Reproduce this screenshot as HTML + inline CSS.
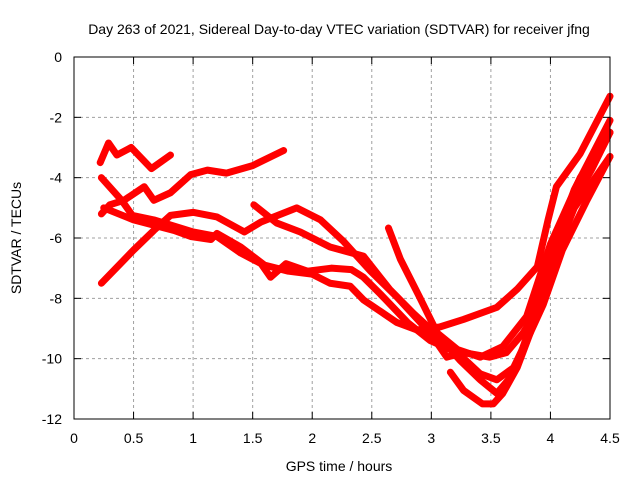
<!DOCTYPE html>
<html><head><meta charset="utf-8"><style>
body{margin:0;background:#fff;}
svg{display:block;font-family:"Liberation Sans",sans-serif;}
</style></head><body>
<svg id="chart" width="640" height="480">
<rect width="640" height="480" fill="#fff"/>
<g id="grid"></g>
<g id="series"></g>
<rect x="74" y="57" width="536" height="362" fill="none" stroke="#000" stroke-width="1"/>
<g id="ticks" font-size="14"></g>
<text x="339" y="34" text-anchor="middle" font-size="14">Day 263 of 2021, Sidereal Day-to-day VTEC variation (SDTVAR) for receiver jfng</text>
<text x="339" y="471" text-anchor="middle" font-size="14">GPS time / hours</text>
<text transform="translate(21,238) rotate(-90)" text-anchor="middle" font-size="14">SDTVAR / TECUs</text>
</svg>
<script>
const xTicks=[0,0.5,1,1.5,2,2.5,3,3.5,4,4.5];
const xTickLabels=["0","0.5","1","1.5","2","2.5","3","3.5","4","4.5"];
const yTicks=[0,-2,-4,-6,-8,-10,-12];
const yTickLabels=["0","-2","-4","-6","-8","-10","-12"];
const s1=[[.22,-3.5],[.29,-2.85],[.36,-3.25],[.48,-3.0],[.65,-3.7],[.81,-3.25]];
const s2=[[.23,-5.2],[.3,-4.9],[.42,-4.75],[.59,-4.3],[.67,-4.75],[.81,-4.5],[.98,-3.9],[1.12,-3.75],[1.28,-3.85],[1.5,-3.6],[1.76,-3.1]];
const s3=[[.23,-7.5],[.5,-6.4],[.67,-5.75],[.81,-5.25],[1.0,-5.15],[1.2,-5.3],[1.43,-5.8],[1.57,-5.47],[1.87,-5.0],[2.07,-5.4],[2.26,-6.1],[2.49,-7.1],[2.71,-7.95],[2.99,-9.15],[3.13,-9.95],[3.27,-9.8],[3.49,-9.95],[3.63,-9.8],[3.77,-9.15],[3.89,-8.4],[4.06,-6.07],[4.17,-4.97],[4.35,-3.7],[4.5,-2.5]];
const s4=[[.23,-4.0],[.4,-4.75],[.49,-5.25],[.67,-5.4],[1.0,-5.8],[1.2,-5.95],[1.4,-6.5],[1.57,-6.85],[1.65,-7.3],[1.78,-6.85],[1.96,-7.1],[2.16,-7.0],[2.33,-7.05],[2.43,-7.3],[2.57,-7.85],[2.8,-8.8],[2.99,-9.4],[3.22,-9.8],[3.41,-10.5],[3.55,-10.7],[3.69,-10.3],[3.83,-9.15],[4.0,-7.0],[4.2,-5.0],[4.5,-3.3]];
const s5=[[.25,-5.0],[.5,-5.4],[.84,-5.75],[.98,-5.95],[1.15,-6.05],[1.2,-5.85],[1.4,-6.3],[1.6,-6.9],[1.8,-7.1],[2.0,-7.2],[2.15,-7.5],[2.32,-7.6],[2.43,-8.05],[2.71,-8.8],[2.88,-9.05],[3.07,-8.95],[3.27,-8.7],[3.55,-8.3],[3.72,-7.7],[3.89,-6.95],[3.98,-5.4],[4.05,-4.3],[4.25,-3.2],[4.5,-1.3]];
const s6=[[1.51,-4.9],[1.7,-5.5],[1.9,-5.8],[2.15,-6.3],[2.43,-6.6],[2.65,-7.7],[2.85,-8.5],[3.07,-9.3],[3.24,-10.05],[3.41,-10.7],[3.55,-11.15],[3.69,-10.5],[3.83,-8.95],[4.0,-6.6],[4.2,-4.4],[4.5,-2.1]];
const s7=[[2.64,-5.67],[2.74,-6.7],[2.9,-7.95],[3.05,-9.15],[3.22,-9.7],[3.41,-9.95],[3.6,-9.6],[3.8,-8.6],[4.0,-6.2],[4.25,-4.0],[4.5,-2.5]];
const s8=[[3.16,-10.45],[3.27,-11.05],[3.43,-11.5],[3.52,-11.5],[3.6,-11.15],[3.72,-10.3],[3.83,-9.15],[3.94,-8.2],[4.1,-6.4],[4.3,-4.8],[4.5,-3.3]];
const allSeries=[s1,s2,s3,s4,s5,s6,s7,s8];
const X=v=>74+v/4.5*536, Y=v=>57-v/12*362;
const NS="http://www.w3.org/2000/svg";
const grid=document.getElementById('grid'), ticks=document.getElementById('ticks'), ser=document.getElementById('series');
function mk(tag,attrs,parent){const e=document.createElementNS(NS,tag);for(const k in attrs)e.setAttribute(k,attrs[k]);parent.appendChild(e);return e;}
xTicks.forEach((t,i)=>{
  const x=X(t);
  if(i>0&&i<xTicks.length-1){const g=mk('line',{x1:x,x2:x,y1:57,y2:419,stroke:'#a0a0a0','stroke-dasharray':'3,3'},grid);
  
  }
  mk('line',{x1:x,x2:x,y1:419,y2:412,stroke:'#000'},ticks);
  mk('line',{x1:x,x2:x,y1:57,y2:64,stroke:'#000'},ticks);
  const tx=mk('text',{x:x,y:443,'text-anchor':'middle'},ticks);tx.textContent=xTickLabels[i];
  
  
});
yTicks.forEach((t,i)=>{
  const y=Y(t);
  if(i>0&&i<yTicks.length-1){const g=mk('line',{x1:74,x2:610,y1:y,y2:y,stroke:'#a0a0a0','stroke-dasharray':'3,3'},grid);
  
  }
  mk('line',{x1:74,x2:81,y1:y,y2:y,stroke:'#000'},ticks);
  mk('line',{x1:603,x2:610,y1:y,y2:y,stroke:'#000'},ticks);
  const tx=mk('text',{x:62,y:y+5,'text-anchor':'end'},ticks);tx.textContent=yTickLabels[i];
  
  
});
allSeries.forEach((s,i)=>{
  const p=mk('polyline',{points:s.map(d=>X(d[0])+','+Y(d[1])).join(' '),fill:'none',stroke:'#ff0000','stroke-width':7,'stroke-linejoin':'round','stroke-linecap':'round'},ser);
  
  
});
</script>
</body></html>
